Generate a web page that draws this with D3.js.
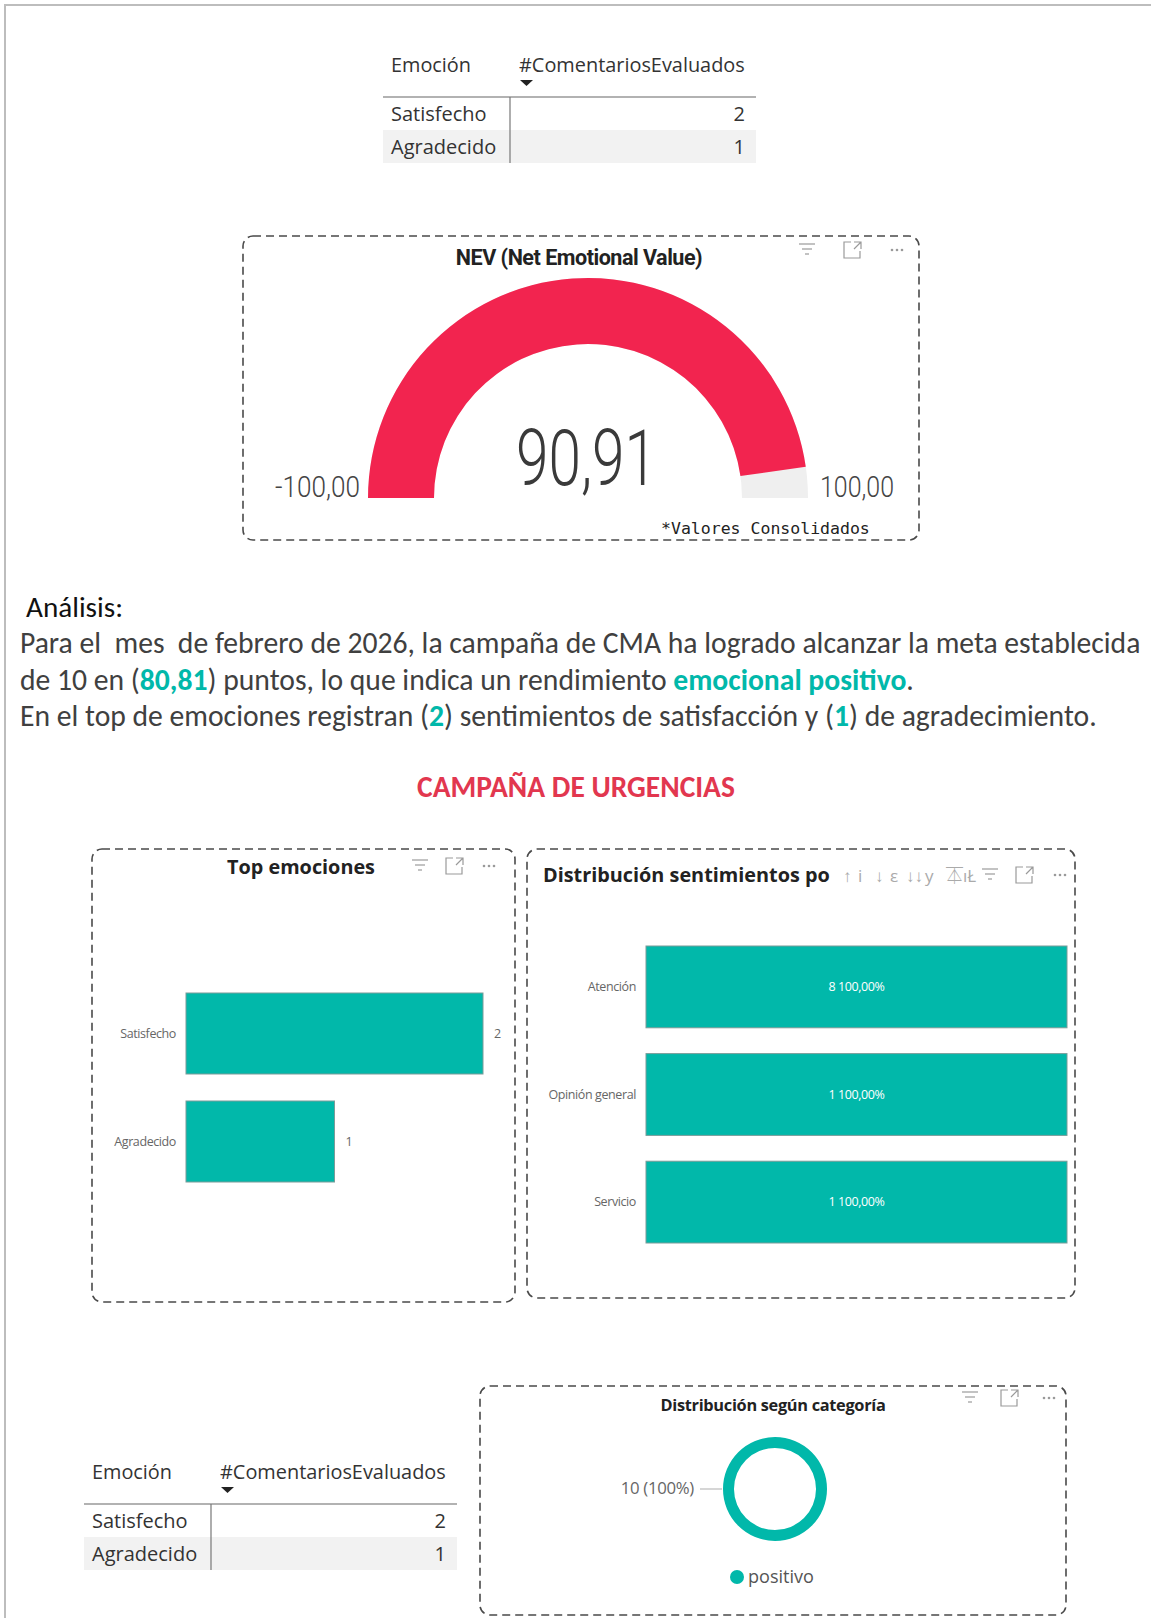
<!DOCTYPE html>
<html>
<head>
<meta charset="utf-8">
<script src="https://cdn.jsdelivr.net/npm/d3@7"></script>
<style>
  body { margin: 0; background: #fff; }
  svg { display: block; }
</style>
</head>
<body>
<div id="chart"></div>
<script>
// data
var emociones = ["Satisfecho", "Agradecido"];
var comentarios = [2, 1];

var nevMin = -100, nevMax = 100;
var nevValue = 90.91;

var categorias = ["Atención", "Opinión general", "Servicio"];
var catConteo = [8, 1, 1];
var catPct = [1, 1, 1];

var sentimientos = ["positivo"];
var sentConteo = [10];

var analisis = [
  [["Para el  mes  de febrero de 2026, la campaña de CMA ha logrado alcanzar la meta establecida", false]],
  [["de 10 en (", false], ["80,81", true], [") puntos, lo que indica un rendimiento ", false], ["emocional positivo", true], [".", false]],
  [["En el top de emociones registran (", false], ["2", true], [") sentimientos de satisfacción y (", false], ["1", true], [") de agradecimiento.", false]]
];

var UI = "'Segoe UI', 'Open Sans', sans-serif";
var TEAL = "#01B8AA";

var svg = d3.select("#chart").append("svg")
  .attr("width", 1151)
  .attr("height", 1618);

// helper: scale a text's font size so it spans the given width
function fit(t, w) {
  var cur = t.node().getComputedTextLength();
  var fs = parseFloat(t.attr("font-size"));
  t.attr("font-size", fs * w / cur);
  return t;
}

// page frame
svg.append("line").attr("x1", 4).attr("x2", 1151).attr("y1", 5).attr("y2", 5)
  .attr("stroke", "#bdbdbd").attr("stroke-width", 2);
svg.append("line").attr("x1", 5).attr("x2", 5).attr("y1", 4).attr("y2", 1618)
  .attr("stroke", "#bdbdbd").attr("stroke-width", 2);

function card(x0, y0, x1, y1) {
  svg.append("rect")
    .attr("x", x0).attr("y", y0)
    .attr("width", x1 - x0).attr("height", y1 - y0)
    .attr("rx", 10)
    .attr("fill", "none")
    .attr("stroke", "#4a4a4a")
    .attr("stroke-width", 1.6)
    .attr("stroke-dasharray", "8,5");
}

function icons(xs, y) {
  var g = svg.append("g").attr("stroke", "#9a9a9a").attr("fill", "none").attr("stroke-width", 1.2);
  // filter
  g.append("line").attr("x1", xs[0] - 8).attr("x2", xs[0] + 8).attr("y1", y - 6).attr("y2", y - 6);
  g.append("line").attr("x1", xs[0] - 5).attr("x2", xs[0] + 5).attr("y1", y - 1).attr("y2", y - 1);
  g.append("line").attr("x1", xs[0] - 2).attr("x2", xs[0] + 2).attr("y1", y + 4).attr("y2", y + 4);
  // focus
  g.append("path").attr("d", "M" + (xs[1] - 2) + "," + (y - 8) + "h-7v16h16v-7");
  g.append("path").attr("d", "M" + (xs[1] + 1) + "," + (y - 8) + "h7v7M" + (xs[1] + 8) + "," + (y - 8) + "l-7,7");
  // more
  [-5, 0, 5].forEach(function(d) {
    svg.append("circle").attr("cx", xs[2] + d).attr("cy", y).attr("r", 1.3).attr("fill", "#9a9a9a");
  });
}

// table visual
function table(x0, yLine) {
  var g = svg.append("g");
  var x1 = x0 + 373, xDiv = x0 + 127;
  var h1 = g.append("text").attr("x", x0 + 8).attr("y", yLine - 25)
    .attr("font-family", UI).attr("font-size", 20).attr("fill", "#333").text("Emoción");
  fit(h1, 80);
  var h2 = g.append("text").attr("x", x0 + 136).attr("y", yLine - 25)
    .attr("font-family", UI).attr("font-size", 20).attr("fill", "#333").text("#ComentariosEvaluados");
  fit(h2, 226);
  g.append("path")
    .attr("d", "M" + (x0 + 137) + "," + (yLine - 17) + "h13l-6.5,6z")
    .attr("fill", "#222");
  g.append("rect").attr("x", x0).attr("y", yLine + 33).attr("width", x1 - x0).attr("height", 33).attr("fill", "#f2f2f2");
  g.append("line").attr("x1", x0).attr("x2", x1).attr("y1", yLine).attr("y2", yLine)
    .attr("stroke", "#999").attr("stroke-width", 1.5);
  g.append("line").attr("x1", xDiv).attr("x2", xDiv).attr("y1", yLine).attr("y2", yLine + 66)
    .attr("stroke", "#777").attr("stroke-width", 1.2);
  emociones.forEach(function(e, i) {
    var yy = yLine + 24 + i * 33;
    g.append("text").attr("x", x0 + 8).attr("y", yy)
      .attr("font-family", UI).attr("font-size", 20).attr("fill", "#333").text(e);
    g.append("text").attr("x", x1 - 11).attr("y", yy).attr("text-anchor", "end")
      .attr("font-family", UI).attr("font-size", 20).attr("fill", "#333").text(comentarios[i]);
  });
}

table(383, 97);

// NEV gauge
card(243, 236, 919, 540);
icons([807, 853, 897], 250);
fit(svg.append("text").attr("x", 579).attr("y", 265).attr("text-anchor", "middle")
  .attr("font-family", "Roboto, sans-serif").attr("font-weight", 700).attr("font-size", 18)
  .attr("fill", "#222").attr("letter-spacing", -0.5).text("NEV (Net Emotional Value)"), 244);

var gcx = 588, gcy = 498;
var gScale = d3.scaleLinear().domain([nevMin, nevMax]).range([-Math.PI / 2, Math.PI / 2]);
var arc = d3.arc().innerRadius(154).outerRadius(220);
var gg = svg.append("g").attr("transform", "translate(" + gcx + "," + gcy + ")");
gg.append("path").attr("d", arc({startAngle: gScale(nevMin), endAngle: gScale(nevMax)})).attr("fill", "#efefef");
gg.append("path").attr("d", arc({startAngle: gScale(nevMin), endAngle: gScale(nevValue)})).attr("fill", "#F2244F");

var fmt = function(v) { return d3.format(".2f")(v).replace(".", ",").replace("−", "-"); };
svg.append("text").attr("x", 516).attr("y", 485)
  .attr("font-family", "Roboto, sans-serif").attr("font-weight", 300).attr("font-size", 78)
  .attr("textLength", 141).attr("lengthAdjust", "spacingAndGlyphs")
  .attr("fill", "#3a3a3a").text(fmt(nevValue));
svg.append("text").attr("x", 275).attr("y", 497)
  .attr("font-family", "Roboto, sans-serif").attr("font-weight", 300).attr("font-size", 29)
  .attr("textLength", 85).attr("lengthAdjust", "spacingAndGlyphs")
  .attr("fill", "#444").text(fmt(nevMin));
svg.append("text").attr("x", 820).attr("y", 497)
  .attr("font-family", "Roboto, sans-serif").attr("font-weight", 300).attr("font-size", 29)
  .attr("textLength", 74).attr("lengthAdjust", "spacingAndGlyphs")
  .attr("fill", "#444").text(fmt(nevMax));
fit(svg.append("text").attr("x", 661).attr("y", 534)
  .attr("font-family", "'DejaVu Sans Mono', monospace").attr("font-size", 16)
  .attr("fill", "#222").text("*Valores Consolidados"), 209);

// analysis text
var PF = "Carlito, Lato, sans-serif";
fit(svg.append("text").attr("x", 26).attr("y", 617)
  .attr("font-family", PF).attr("font-size", 24).attr("fill", "#111").text("Análisis:"), 97);

var lineY = [653, 690, 726];
var paraSize = 24;
analisis.forEach(function(parts, i) {
  var t = svg.append("text").attr("x", 20).attr("y", lineY[i])
    .attr("font-family", PF).attr("font-size", paraSize).attr("fill", "#404040")
    .style("white-space", "pre");
  parts.forEach(function(p) {
    t.append("tspan")
      .attr("fill", p[1] ? TEAL : "#404040")
      .attr("font-weight", p[1] ? 700 : 400)
      .text(p[0]);
  });
  if (i === 0) {
    fit(t, 1121);
    paraSize = parseFloat(t.attr("font-size"));
  }
});

// section title
fit(svg.append("text").attr("x", 576).attr("y", 797).attr("text-anchor", "middle")
  .attr("font-family", "Carlito, Lato, sans-serif").attr("font-weight", 700).attr("font-size", 26)
  .attr("fill", "#E2374F").text("CAMPAÑA DE URGENCIAS"), 318);

// Top emociones
card(92, 849, 515, 1302);
icons([420, 455, 489], 866);
fit(svg.append("text").attr("x", 301).attr("y", 874).attr("text-anchor", "middle")
  .attr("font-family", UI).attr("font-weight", 700).attr("font-size", 19)
  .attr("fill", "#222").text("Top emociones"), 148);

var x1 = d3.scaleLinear().domain([0, 2]).range([186, 483]);
var y1 = d3.scaleBand().domain(emociones).range([993, 1182]).paddingInner(0.25).paddingOuter(0);
var topData = emociones.map(function(e, i) { return {k: e, v: comentarios[i]}; });
svg.append("g").selectAll("rect").data(topData).enter().append("rect")
  .attr("x", x1(0)).attr("y", function(d) { return y1(d.k); })
  .attr("width", function(d) { return x1(d.v) - x1(0); })
  .attr("height", y1.bandwidth())
  .attr("fill", TEAL).attr("stroke", "#7a9c99").attr("stroke-width", 1);
svg.append("g").selectAll("text").data(topData).enter().append("text")
  .attr("x", 176).attr("y", function(d) { return y1(d.k) + y1.bandwidth() / 2 + 4; })
  .attr("text-anchor", "end").attr("font-family", UI).attr("font-size", 12.5)
  .attr("fill", "#666").attr("letter-spacing", -0.4).text(function(d) { return d.k; });
svg.append("g").selectAll("text").data(topData).enter().append("text")
  .attr("x", function(d) { return x1(d.v) + 11; })
  .attr("y", function(d) { return y1(d.k) + y1.bandwidth() / 2 + 4; })
  .attr("font-family", UI).attr("font-size", 12.5).attr("fill", "#666")
  .text(function(d) { return d.v; });

// Distribución sentimientos
card(527, 849, 1075, 1298);
var clip = svg.append("clipPath").attr("id", "tclip");
clip.append("rect").attr("x", 540).attr("y", 855).attr("width", 290).attr("height", 40);
fit(svg.append("text").attr("x", 543).attr("y", 882).attr("clip-path", "url(#tclip)")
  .attr("font-family", UI).attr("font-weight", 700).attr("font-size", 19)
  .attr("fill", "#222").text("Distribución sentimientos por"), 296);
// header toolbar glyphs over the clipped title
var tb = svg.append("g").attr("font-family", UI).attr("font-size", 17).attr("fill", "#aaa");
[["↑", 843], ["i", 858], ["↓", 875], ["ε", 890], ["↓↓", 906], ["y", 925], ["⏄", 946], ["ıŁ", 963]].forEach(function(d) {
  tb.append("text").attr("x", d[1]).attr("y", 882).text(d[0]);
});
icons([990, 1025, 1060], 875);

var x2 = d3.scaleLinear().domain([0, 1]).range([646, 1067]);
var y2 = d3.scaleBand().domain(categorias).range([946, 1243]).paddingInner(0.24).paddingOuter(0);
var catData = categorias.map(function(c, i) { return {k: c, n: catConteo[i], p: catPct[i]}; });
svg.append("g").selectAll("rect").data(catData).enter().append("rect")
  .attr("x", x2(0)).attr("y", function(d) { return y2(d.k); })
  .attr("width", function(d) { return x2(d.p) - x2(0); })
  .attr("height", y2.bandwidth())
  .attr("fill", TEAL).attr("stroke", "#7a9c99").attr("stroke-width", 1);
svg.append("g").selectAll("text").data(catData).enter().append("text")
  .attr("x", 636).attr("y", function(d) { return y2(d.k) + y2.bandwidth() / 2 + 4; })
  .attr("text-anchor", "end").attr("font-family", UI).attr("font-size", 12.5)
  .attr("fill", "#666").attr("letter-spacing", -0.4).text(function(d) { return d.k; });
svg.append("g").selectAll("text").data(catData).enter().append("text")
  .attr("x", (x2(0) + x2(1)) / 2).attr("y", function(d) { return y2(d.k) + y2.bandwidth() / 2 + 4; })
  .attr("text-anchor", "middle").attr("font-family", UI).attr("font-size", 12.5)
  .attr("fill", "#fff").attr("letter-spacing", -0.4)
  .text(function(d) { return d.n + " " + d3.format(".2f")(d.p * 100).replace(".", ",") + "%"; });

// second table
table(84, 1504);

// Distribución según categoría
card(480, 1386, 1066, 1615);
icons([970, 1010, 1049], 1398);
fit(svg.append("text").attr("x", 773).attr("y", 1411).attr("text-anchor", "middle")
  .attr("font-family", UI).attr("font-weight", 700).attr("font-size", 16)
  .attr("fill", "#222").attr("letter-spacing", -0.3).text("Distribución según categoría"), 225);

var pie = d3.pie().sort(null)(sentConteo);
var donut = d3.arc().innerRadius(41).outerRadius(52);
var dg = svg.append("g").attr("transform", "translate(775,1489)");
dg.selectAll("path").data(pie).enter().append("path").attr("d", donut).attr("fill", TEAL);
var total = d3.sum(sentConteo);
svg.append("line").attr("x1", 700).attr("x2", 722).attr("y1", 1489).attr("y2", 1489)
  .attr("stroke", "#bbb").attr("stroke-width", 1.2);
fit(svg.append("text").attr("x", 694).attr("y", 1494).attr("text-anchor", "end")
  .attr("font-family", UI).attr("font-size", 15).attr("fill", "#666").attr("letter-spacing", -0.3)
  .text(sentConteo[0] + " (" + Math.round(sentConteo[0] / total * 100) + "%)"), 73);

svg.append("circle").attr("cx", 737).attr("cy", 1577).attr("r", 7).attr("fill", TEAL);
fit(svg.append("text").attr("x", 748).attr("y", 1583)
  .attr("font-family", UI).attr("font-size", 17).attr("fill", "#555").text(sentimientos[0]), 66);
</script>
</body>
</html>
